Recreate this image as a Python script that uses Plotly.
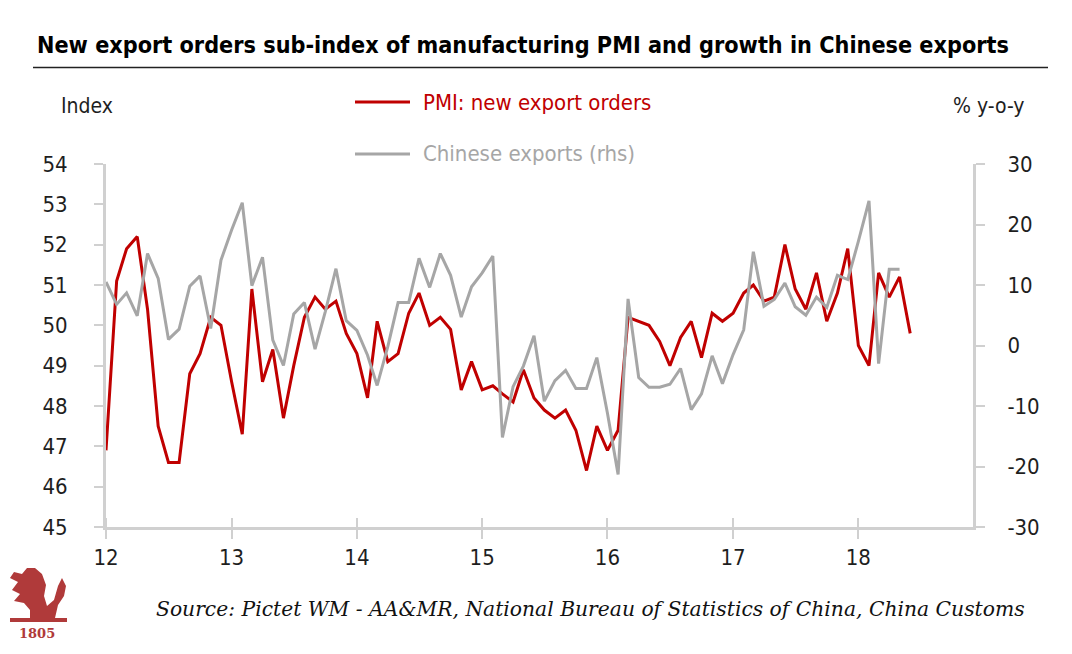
import plotly.graph_objects as go
import pandas as pd

# ---------------- data ----------------
start_month = "2012-01-01"
pmi_new_export_orders = [
    46.9, 51.1, 51.9, 52.2, 50.4, 47.5, 46.6, 46.6, 48.8, 49.3, 50.2, 50.0,   # 2012
    48.6, 47.3, 50.9, 48.6, 49.4, 47.7, 49.0, 50.2, 50.7, 50.4, 50.6, 49.8,   # 2013
    49.3, 48.2, 50.1, 49.1, 49.3, 50.3, 50.8, 50.0, 50.2, 49.9, 48.4, 49.1,   # 2014
    48.4, 48.5, 48.3, 48.1, 48.9, 48.2, 47.9, 47.7, 47.9, 47.4, 46.4, 47.5,   # 2015
    46.9, 47.4, 50.2, 50.1, 50.0, 49.6, 49.0, 49.7, 50.1, 49.2, 50.3, 50.1,   # 2016
    50.3, 50.8, 51.0, 50.6, 50.7, 52.0, 50.9, 50.4, 51.3, 50.1, 50.8, 51.9,   # 2017
    49.5, 49.0, 51.3, 50.7, 51.2, 49.8,                                       # 2018
]
chinese_exports_yoy = [
    10.5, 6.8, 8.7, 4.9, 15.2, 11.1, 1.0, 2.7, 9.8, 11.5, 2.8, 14.1,          # 2012
    19.1, 23.6, 9.9, 14.6, 0.9, -3.3, 5.2, 7.1, -0.6, 5.6, 12.7, 4.1,         # 2013
    2.5, -1.6, -6.6, -0.2, 7.1, 7.1, 14.4, 9.6, 15.2, 11.6, 4.7, 9.7,         # 2014
    12.0, 14.8, -15.2, -6.8, -3.4, 1.6, -9.2, -5.8, -4.1, -7.1, -7.1, -2.0,   # 2015
    -11.2, -21.3, 7.7, -5.3, -6.9, -6.9, -6.4, -3.8, -10.6, -8.0, -1.7, -6.3, # 2016
    -1.5, 2.6, 15.5, 6.5, 7.6, 10.3, 6.4, 5.0, 8.0, 6.3, 11.6, 10.9,          # 2017
    17.2, 23.9, -3.0, 12.6, 12.6,                                             # 2018
]
year_ticks = ["2012-01-01", "2013-01-01", "2014-01-01", "2015-01-01",
              "2016-01-01", "2017-01-01", "2018-01-01"]
year_labels = ["12", "13", "14", "15", "16", "17", "18"]
left_ticks = [45, 46, 47, 48, 49, 50, 51, 52, 53, 54]
right_ticks = [-30, -20, -10, 0, 10, 20, 30]
right_labels = ["-30", "-20", "-10", "0", "10", "20", "30"]

pmi_dates = pd.date_range(start_month, periods=len(pmi_new_export_orders), freq="MS")
exp_dates = pd.date_range(start_month, periods=len(chinese_exports_yoy), freq="MS")

# ---------------- style ----------------
RED = "#c00000"
GREY = "#a6a6a6"
AXIS = "#d0d0d0"
TXT = "#1e1e1e"
NARROW = "DejaVu Sans Condensed, Liberation Sans Narrow, sans-serif"
W, H = 1072, 654
L, R, T, B = 106, 973, 164, 527


def px(x):
    return (x - L) / (R - L)


def py(y):
    return (B - y) / (B - T)


fig = go.Figure()
fig.add_trace(go.Scatter(x=pmi_dates, y=pmi_new_export_orders, mode="lines",
                         line=dict(color=RED, width=3), name="PMI: new export orders",
                         showlegend=False))
fig.add_trace(go.Scatter(x=exp_dates, y=chinese_exports_yoy, mode="lines",
                         line=dict(color=GREY, width=3), name="Chinese exports (rhs)",
                         yaxis="y2", showlegend=False))

tickfont = dict(family=NARROW, size=22, color=TXT)
common = dict(showline=True, linecolor=AXIS, linewidth=3, showgrid=False,
              zeroline=False, tickfont=tickfont, automargin=False,
              ticks="outside", ticklen=9, tickwidth=2, tickcolor=AXIS)

fig.update_layout(
    template="none",
    width=W, height=H,
    margin=dict(l=L, r=W - R, t=T, b=H - B, pad=0),
    paper_bgcolor="white", plot_bgcolor="white",
    showlegend=False,
    xaxis=dict(type="date", range=["2012-01-01", "2018-12-01"],
               tickvals=year_ticks, ticktext=year_labels,
               minor=dict(tickvals=year_ticks, ticks="inside", ticklen=9,
                          tickwidth=2, tickcolor=AXIS, showgrid=False),
               ticklabelstandoff=0, **common),
    yaxis=dict(range=[45, 54], tickvals=left_ticks, ticklabelstandoff=22, **common),
    yaxis2=dict(range=[-30, 30], tickvals=right_ticks, ticktext=right_labels,
                overlaying="y", side="right", ticklabelstandoff=18, **common),
)

annotations = [
    dict(text="<b>New export orders sub-index of manufacturing PMI and growth in Chinese exports</b>",
         x=px(35), y=py(44), xanchor="left", yanchor="middle",
         font=dict(family=NARROW, size=23.2, color="#000000")),
    dict(text="Index", x=px(59), y=py(106), xanchor="left", yanchor="middle",
         font=dict(family=NARROW, size=21, color=TXT)),
    dict(text="% y-o-y", x=px(1027), y=py(106), xanchor="right", yanchor="middle",
         font=dict(family=NARROW, size=21, color=TXT)),
    dict(text="PMI: new export orders", x=px(421), y=py(102), xanchor="left", yanchor="middle",
         font=dict(family=NARROW, size=22, color=RED)),
    dict(text="Chinese exports (rhs)", x=px(421), y=py(154), xanchor="left", yanchor="middle",
         font=dict(family=NARROW, size=22, color=GREY)),
    dict(text="<i>Source: Pictet WM - AA&amp;MR, National Bureau of Statistics of China, China Customs</i>",
         x=px(1027), y=py(609), xanchor="right", yanchor="middle",
         font=dict(family="DejaVu Serif, serif", size=20.3, color="#111111")),
    dict(text="<b>1805</b>", x=px(37), y=py(633), xanchor="center", yanchor="middle",
         font=dict(family="DejaVu Serif, serif", size=13, color="#b03a3a")),
]
for a in annotations:
    a.update(xref="paper", yref="paper", showarrow=False)
fig.update_layout(annotations=annotations)

shapes = [
    dict(type="line", x0=px(33), x1=px(1048), y0=py(67.5), y1=py(67.5),
         line=dict(color="#222222", width=1.3)),
    dict(type="line", x0=px(355), x1=px(410), y0=py(102), y1=py(102),
         line=dict(color=RED, width=3)),
    dict(type="line", x0=px(355), x1=px(410), y0=py(154), y1=py(154),
         line=dict(color=GREY, width=3)),
]
# simple lion emblem silhouette (decorative logo)
lion = [(10, 622), (67, 622), (67, 618), (55, 618), (58, 605), (64, 596), (66, 586),
        (62, 578), (58, 586), (54, 600), (47, 606), (44, 596), (46, 585), (42, 574),
        (35, 568), (27, 568), (22, 574), (14, 572), (10, 578), (18, 582), (12, 590),
        (20, 594), (14, 601), (24, 603), (30, 610), (30, 618), (10, 618)]
path = "M " + " L ".join(f"{px(x):.5f},{py(y):.5f}" for x, y in lion) + " Z"
shapes.append(dict(type="path", path=path, fillcolor="#b03a3a", line=dict(width=0)))
for s in shapes:
    s.update(xref="paper", yref="paper")
fig.update_layout(shapes=shapes)

fig.write_html("out.html", config={"displayModeBar": False},
               post_script="document.body.style.margin='0';document.body.style.padding='0';")
